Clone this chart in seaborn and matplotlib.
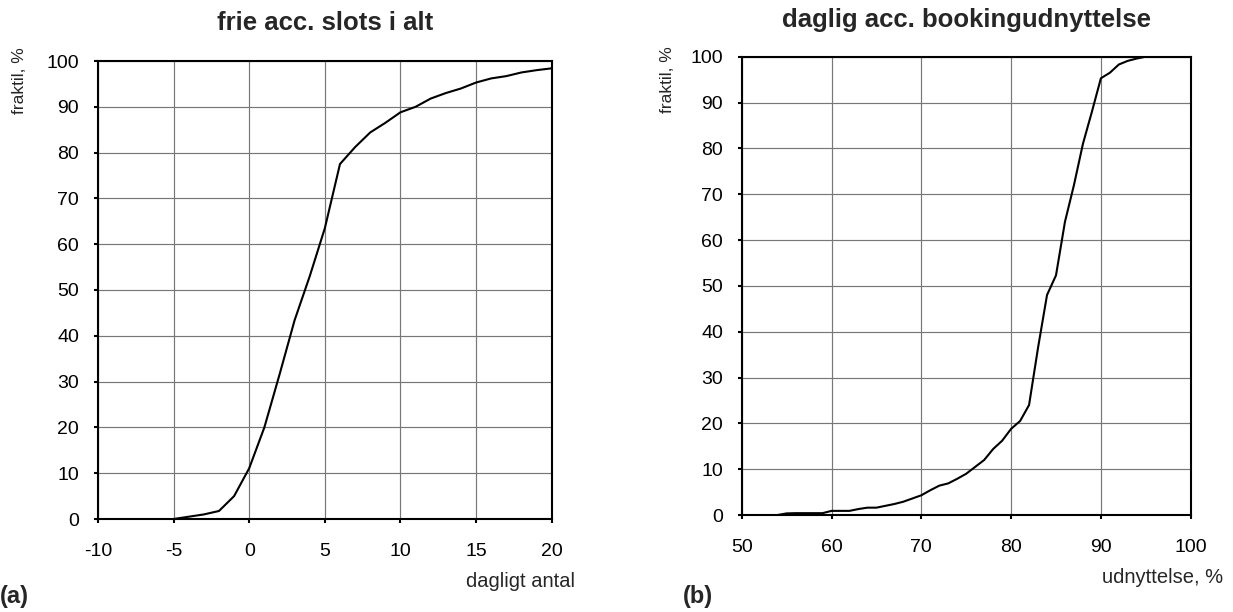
import matplotlib
matplotlib.use("Agg")
import matplotlib.pyplot as plt
import seaborn as sns
import pandas as pd

# (a) cumulative distribution of free acc. slots per day
slots_x = [-5, -4, -3, -2, -1, 0, 1, 2, 3, 4, 5, 6, 7, 8, 9, 10,
           11, 12, 13, 14, 15, 16, 17, 18, 19, 20]
slots_frac = [0.0, 0.5, 1.0, 1.75, 5.0, 11.1, 20.0, 31.5, 43.4, 53.0, 63.5, 77.5,
              81.2, 84.4, 86.5, 88.8, 90.0, 91.8, 93.0, 94.0, 95.3, 96.2,
              96.7, 97.5, 98.0, 98.4]

# (b) cumulative distribution of daily acc. booking utilisation
util_x = [54, 55, 56, 57, 58, 59, 60, 61, 62, 63, 64, 65, 66, 67, 68, 69,
          70, 71, 72, 73, 74, 75, 76, 77, 78, 79, 80, 81, 82, 83, 84, 85,
          86, 87, 88, 89, 90, 91, 92, 93, 94, 95]
util_frac = [0.0, 0.35, 0.4, 0.4, 0.4, 0.4, 0.9, 0.9, 0.9, 1.3, 1.6, 1.6,
             2.0, 2.4, 2.9, 3.6, 4.3, 5.4, 6.4, 6.9, 7.9, 9.0, 10.5, 12.0,
             14.4, 16.2, 18.8, 20.5, 24.0, 36.5, 48.0, 52.3, 64.0, 72.0,
             81.0, 88.0, 95.3, 96.5, 98.3, 99.1, 99.6, 100.0]

slots_xticks = [-10, -5, 0, 5, 10, 15, 20]
util_xticks = [50, 60, 70, 80, 90, 100]
frac_ticks = [0, 10, 20, 30, 40, 50, 60, 70, 80, 90, 100]

sns.set_theme(style="white")
plt.rcParams["font.family"] = ["Liberation Sans", "DejaVu Sans"]

W, H = 1233, 612
fig = plt.figure(figsize=(W / 100, H / 100), dpi=100)


def px_axes(x0, y0, x1, y1):
    return fig.add_axes([x0 / W, 1 - y1 / H, (x1 - x0) / W, (y1 - y0) / H])


ax_a = px_axes(98, 61, 551.7, 519)
ax_b = px_axes(741.7, 56.7, 1190.7, 515)

df_a = pd.DataFrame({"x": slots_x, "y": slots_frac})
df_b = pd.DataFrame({"x": util_x, "y": util_frac})

sns.lineplot(data=df_a, x="x", y="y", ax=ax_a, color="black", lw=1.5)
sns.lineplot(data=df_b, x="x", y="y", ax=ax_b, color="black", lw=1.5)

for ax, xt in ((ax_a, slots_xticks), (ax_b, util_xticks)):
    ax.set_xlim(xt[0], xt[-1])
    ax.set_ylim(0, 100)
    ax.set_xticks(xt)
    ax.set_yticks(frac_ticks)
    ax.set_xticklabels([str(v) for v in xt])
    ax.set_yticklabels([str(v) for v in frac_ticks])
    ax.set_xlabel("")
    ax.set_ylabel("")
    ax.grid(True, color="#777777", lw=0.85)
    ax.set_axisbelow(True)
    for s in ax.spines.values():
        s.set_color("black")
        s.set_linewidth(1.5)
    ax.tick_params(axis="both", which="major", direction="out", length=3,
                   width=1.5, color="black", labelsize=14, labelcolor="black",
                   bottom=True, left=True)
    ax.tick_params(axis="x", pad=14)
    ax.tick_params(axis="y", pad=10.5)

# titles
fig.text((98 + 551.7) / 2 / W, 1 - 30 / H, "frie acc. slots i alt",
         ha="center", va="baseline", fontsize=18.5, fontweight="bold")
fig.text((741.7 + 1190.7) / 2 / W, 1 - 27 / H, "daglig acc. bookingudnyttelse",
         ha="center", va="baseline", fontsize=18.5, fontweight="bold")

# y-axis labels, placed at the top of each axis
fig.text(20 / W, 1 - 47 / H, "fraktil, %", rotation=90, ha="center", va="top",
         fontsize=12.5)
fig.text(668 / W, 1 - 46 / H, "fraktil, %", rotation=90, ha="center", va="top",
         fontsize=12.5)

# x-axis labels, right-aligned below the tick labels
fig.text(575 / W, 1 - 587 / H, "dagligt antal", ha="right", va="baseline",
         fontsize=14.5)
fig.text(1223 / W, 1 - 583 / H, "udnyttelse, %", ha="right", va="baseline",
         fontsize=14.5)

# panel letters
fig.text(0 / W, 1 - 603 / H, "(a)", ha="left", va="baseline", fontsize=17,
         fontweight="bold")
fig.text(683 / W, 1 - 603 / H, "(b)", ha="left", va="baseline", fontsize=17,
         fontweight="bold")

fig.savefig("out.png", dpi=100)
